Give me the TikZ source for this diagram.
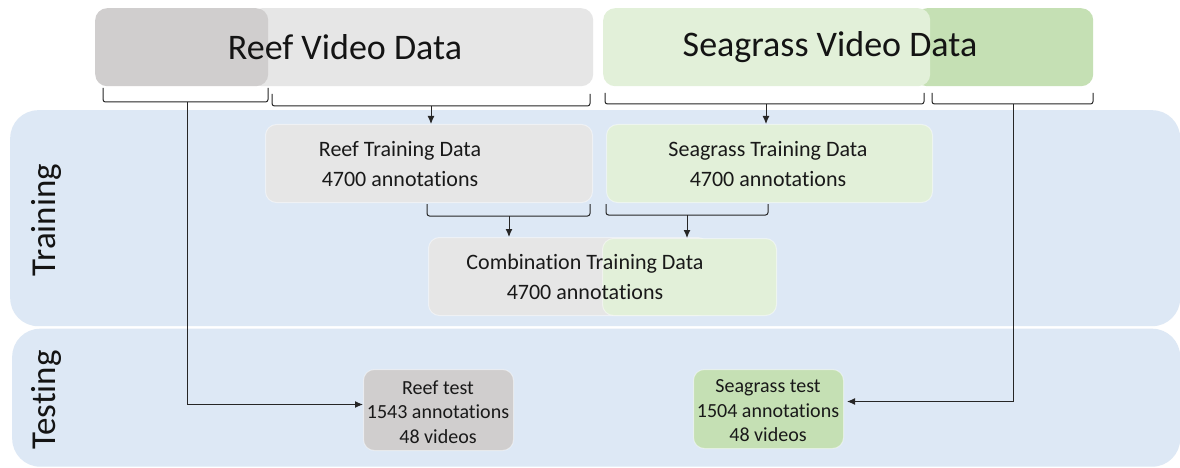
\documentclass[tikz,border=0pt]{standalone}
\usepackage{fontspec}
\setmainfont{Carlito}[Ligatures={NoCommon}]
\usetikzlibrary{arrows.meta}
\definecolor{bandc}{HTML}{DDE8F5}
\definecolor{reefdark}{HTML}{D0CECE}
\definecolor{reeflight}{HTML}{E6E6E6}
\definecolor{sealight}{HTML}{E2F0D9}
\definecolor{seadark}{HTML}{C5E0B4}
\definecolor{linec}{HTML}{262626}
\tikzset{
  bandbox/.style={rounded corners=28pt, fill=bandc, draw=none, inner sep=0pt, anchor=north west},
  topbox/.style={rounded corners=12pt, draw=none, inner sep=0pt, anchor=north west},
  box/.style={rounded corners=11pt, draw=white, draw opacity=0.45, line width=1pt, inner sep=0pt, anchor=north west},
  brk/.style={draw=linec, line width=1pt, rounded corners=2.5pt},
  conn/.style={draw=linec, line width=1pt, -{Latex[length=8pt,width=7pt]}},
  bigtxt/.style={font=\fontsize{36}{40}\selectfont, text=black!92},
  sidetxt/.style={font=\fontsize{35}{40}\selectfont, text=black!92, rotate=90, anchor=base},
  midtxt/.style={font=\fontsize{22}{29.5}\selectfont, align=center, text=black!90},
  smalltxt/.style={font=\fontsize{20}{24.5}\selectfont, align=center, text=black!90},
}
\begin{document}
\begin{tikzpicture}[x=1pt,y=-1pt]
\useasboundingbox[fill=white] (0,0) rectangle (1180,468);

% bands
\node[bandbox, minimum width=1170pt, minimum height=216pt] (trainband) at (10,110) {};
\node[bandbox, minimum width=1168pt, minimum height=138pt] (testband) at (12,328.5) {};
\node[sidetxt] (trainlbl) at (55,220) {Training};
\node[sidetxt] (testlbl) at (55,400) {Testing};

% top boxes
\node[topbox, fill=reeflight, minimum width=343pt, minimum height=78pt] (reeflightbox) at (250,8) {};
\node[topbox, fill=reefdark, minimum width=173pt, minimum height=78pt] (reefdarkbox) at (95,8) {};
\node[topbox, fill=seadark, minimum width=178pt, minimum height=78pt] (seadarkbox) at (915,8) {};
\node[topbox, fill=sealight, minimum width=327pt, minimum height=78pt] (sealightbox) at (603,8) {};
\node[bigtxt] (reeftitle) at (345,47) {Reef Video Data};
\node[bigtxt] (seatitle) at (830,47) {Seagrass Video Data};

% training boxes
\node[box, fill=reeflight, minimum width=327pt, minimum height=78pt] (reeftrain) at (265,124) {};
\node[box, fill=sealight, minimum width=326pt, minimum height=78pt] (seatrain) at (606,124) {};
\node[midtxt] (reeftraintxt) at (400,164) {Reef Training Data\\4700 annotations};
\node[midtxt] (seatraintxt) at (768,164) {Seagrass Training Data\\4700 annotations};

% combination box
\node[box, fill=reeflight, minimum width=280pt, minimum height=78pt] (combgray) at (428,237) {};
\node[box, fill=sealight, minimum width=174pt, minimum height=77pt] (combgreen) at (602,238) {};
\node[midtxt] (combtxt) at (585,277) {Combination Training Data\\4700 annotations};

% test boxes
\node[box, fill=reefdark, minimum width=150pt, minimum height=81pt] (reeftest) at (363,369) {};
\node[box, fill=seadark, minimum width=150pt, minimum height=79pt] (seatest) at (693,369) {};
\node[smalltxt] (reeftesttxt) at (438,412) {Reef test\\1543 annotations\\48 videos};
\node[smalltxt] (seatesttxt) at (768,411) {Seagrass test\\1504 annotations\\48 videos};

% brackets under top boxes
\coordinate (brA) at (187,102);
\coordinate (brB) at (431,106);
\coordinate (brC) at (766,104);
\coordinate (brD) at (1013,104);
\draw[brk] (103,88) |- (brA) -| (268,88);
\draw[brk] (272,94) |- (brB) -| (590,94);
\draw[brk] (605,93) |- (brC) -| (924,93);
\draw[brk] (932,93) |- (brD) -| (1093,93);

% brackets under training boxes
\coordinate (brE) at (509,216);
\coordinate (brF) at (687,215);
\draw[brk] (427,204) |- (brE) -| (590,204);
\draw[brk] (606,204) |- (brF) -| (768,204);

% connectors
\draw[conn] (brB) -- (brB |- reeftrain.north);
\draw[conn] (brC) -- (brC |- seatrain.north);
\draw[conn] (brE) -- (brE |- combgray.north);
\draw[conn] (brF) -- (brF |- combgreen.north);
\draw[conn] (brA) |- ([yshift=5.5pt]reeftest.west);
\draw[conn] (brD) |- ([xshift=3pt,yshift=7.5pt]seatest.east);
\end{tikzpicture}
\end{document}
